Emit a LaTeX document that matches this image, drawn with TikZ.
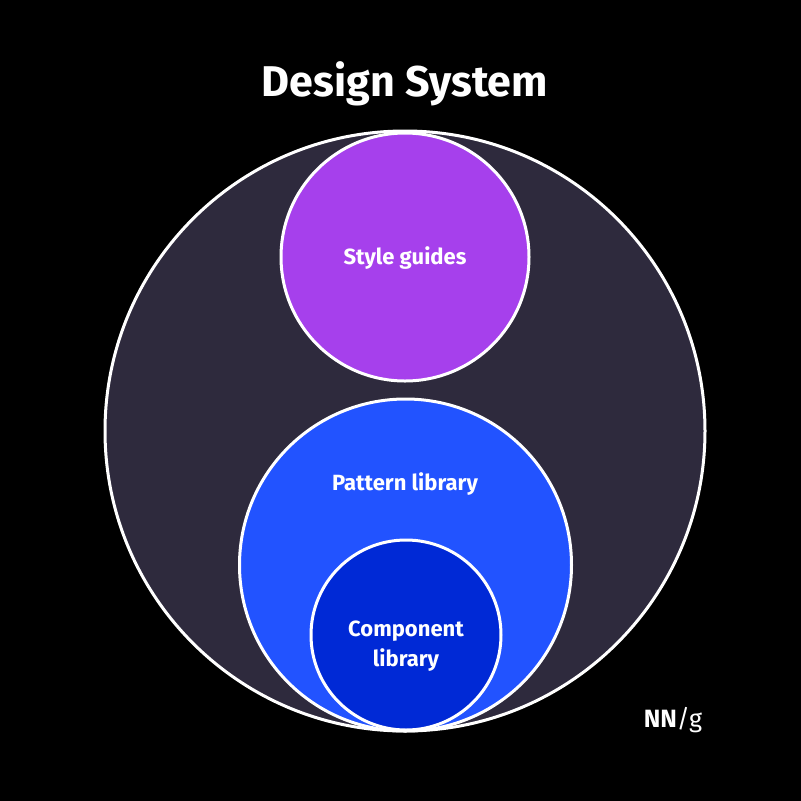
\documentclass[tikz,border=0pt]{standalone}
\usepackage{fontspec}
\setmainfont{Fira Sans}
\definecolor{bigc}{HTML}{2E2A3D}
\definecolor{purp}{HTML}{A640EC}
\definecolor{blu}{HTML}{2253FF}
\definecolor{dblu}{HTML}{0029D6}
\begin{document}
\begin{tikzpicture}[x=1pt,y=-1pt,
  circ/.style={draw=white,line width=3pt},
  lbl/.style={text=white,font=\bfseries\fontsize{22}{30}\selectfont,align=center}]
\fill[black] (0,0) rectangle (801,801);
\useasboundingbox (0,0) rectangle (801,801);
\draw[circ,fill=bigc] (405,431) circle (300);
\draw[circ,fill=purp] (405,257) circle (124);
\draw[circ,fill=blu] (405.5,565) circle (166);
\draw[circ,fill=dblu] (406,635) circle (95);
\node[lbl] (sg) at (405,258) {Style guides};
\node[lbl] (pl) at (405,484) {Pattern library};
\node[lbl] (cl) at (406,646) {Component\\library};
\node[text=white,font=\bfseries\fontsize{43}{50}\selectfont] (t) at (405,84) {Design System};
\node[text=white,font=\fontsize{25}{28}\selectfont] (nn) at (673,720) {\textbf{NN}/g};
\end{tikzpicture}
\end{document}
